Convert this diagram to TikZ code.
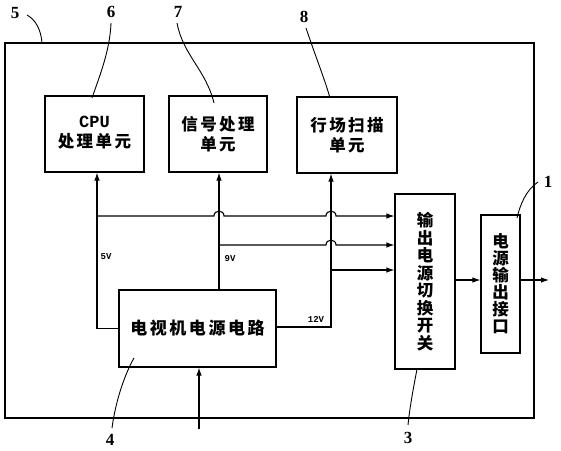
\documentclass[tikz,border=0pt]{standalone}
\usepackage{fontspec}
\setmainfont{Liberation Serif}
\newfontfamily\cjk[LetterSpace=15]{Noto Sans CJK SC}
\newfontfamily\cjkv{Noto Sans CJK SC}
\newfontfamily\monof{Liberation Mono}
\usetikzlibrary{arrows.meta}
\begin{document}
\begin{tikzpicture}[x=1pt,y=-1pt,
  box/.style={draw,line width=1.1pt,inner sep=0pt},
  wire/.style={line width=1.1pt},
  arr/.style={wire,-{Latex[length=8pt,width=5.5pt]}},
  lead/.style={line width=0.9pt},
  num/.style={font=\fontsize{17}{17}\selectfont\bfseries,inner sep=0pt},
  volt/.style={font=\monof\fontsize{9}{9}\selectfont\bfseries,inner sep=0pt},
  cjkt/.style={font=\cjk\fontsize{16.5}{20}\selectfont\bfseries,align=center}]
\useasboundingbox (0,0) rectangle (561,450);
% outer frame
\draw[line width=1.7pt] (5,43) rectangle (534,418);
% boxes
\node[box,minimum width=99pt,minimum height=76pt] (cpu) at (94.5,134) {};
\node[cjkt] at (94.5,133) {{\monof\fontsize{17}{20}\selectfont\bfseries CPU}\\处理单元};
\node[box,minimum width=98pt,minimum height=76pt,cjkt] (sig) at (218,134) {信号处理\\单元};
\node[box,minimum width=100pt,minimum height=76pt,cjkt] (scan) at (347,135) {行场扫描\\单元};
\node[box,minimum width=60pt,minimum height=175pt,cjkt,font=\cjkv\fontsize{16.5}{17.5}\selectfont\bfseries] (sw) at (425,281.5) {输\\出\\电\\源\\切\\换\\开\\关};
\node[box,minimum width=39pt,minimum height=138pt,cjkt,font=\cjkv\fontsize{16.5}{17}\selectfont\bfseries] (port) at (500.5,284) {电\\源\\输\\出\\接\\口};
\node[box,minimum width=157pt,minimum height=77pt,cjkt,font=\cjk\fontsize{17}{20}\selectfont\bfseries] (pwr) at (197.5,328.5) {电视机电源电路};
% coordinates
\coordinate (c5) at (97,328.5);
\coordinate (c9) at (219,0);
\coordinate (c12) at (331,327);
\coordinate (r1) at (97,216);
\coordinate (r2) at (219,245);
\coordinate (r3) at (331,270);
\coordinate (inp) at (199,429);
\coordinate (outp) at (549,280);
% supply lines
\draw[arr] (pwr.west) -- (c5) -- (c5 |- cpu.south);
\draw[arr] (pwr.north -| c9) -- (sig.south -| c9);
\draw[arr] (pwr.east |- c12) -- (c12) -- (c12 |- scan.south);
% bus rows with hops
\draw[arr] (r1) -- (214,216) .. controls (214,209.5) and (224,209.5) .. (224,216)
  -- (326,216) .. controls (326,209.5) and (336,209.5) .. (336,216) -- (sw.west |- r1);
\draw[arr] (r2) -- (326,245) .. controls (326,238.5) and (336,238.5) .. (336,245) -- (sw.west |- r2);
\draw[arr] (r3) -- (sw.west |- r3);
% switch to port, port out, input
\draw[arr] (sw.east |- outp) -- (port.west |- outp);
\draw[arr] (port.east |- outp) -- (outp);
\draw[arr] (inp) -- (inp |- pwr.south);
% voltage labels
\node[volt] at (106,257) {5V};
\node[volt] at (230,259) {9V};
\node[volt] at (316,319) {12V};
% leaders and numbers
\node[num] (n5) at (15,13) {5};
\draw[lead] (27,15) .. controls (36,20) and (41,30) .. (42,43);
\node[num] (n6) at (111,12) {6};
\draw[lead] (111,23) .. controls (110,50) and (100,75) .. (92,98);
\node[num] (n7) at (178,12) {7};
\draw[lead] (177,23) .. controls (183,55) and (206,70) .. (214,103);
\node[num] (n8) at (304,17) {8};
\draw[lead] (306,28) .. controls (315,55) and (325,80) .. (330,98);
\node[num] (n1) at (548,182) {1};
\draw[lead] (538,182) .. controls (526,190) and (520,205) .. (517,218);
\node[num] (n3) at (408,438) {3};
\draw[lead] (408,425) .. controls (410,405) and (414,385) .. (417,369);
\node[num] (n4) at (110,440) {4};
\draw[lead] (112,428) .. controls (116,398) and (126,372) .. (134,358);
\end{tikzpicture}
\end{document}
